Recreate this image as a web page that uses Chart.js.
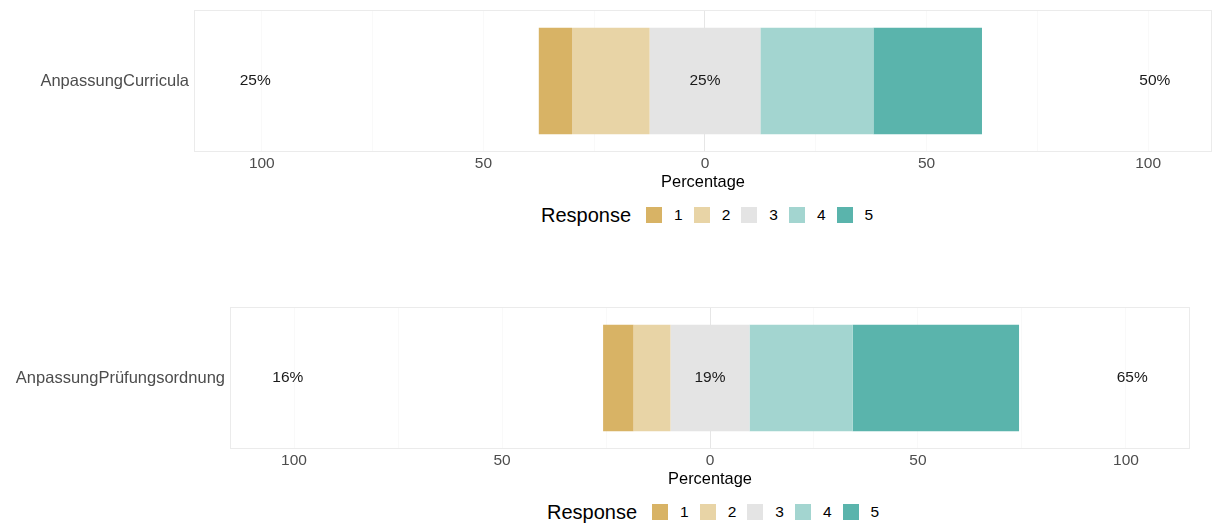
<!DOCTYPE html>
<html>
<head>
<meta charset="utf-8">
<script src="https://cdn.jsdelivr.net/npm/chart.js@4/dist/chart.umd.min.js"></script>
<style>
  body { margin: 0; background: #fff; font-family: "Liberation Sans", Arial, sans-serif; }
  #wrap { position: relative; width: 1213px; height: 526px; }
  canvas { position: absolute; left: 0; }
  .legend { position: absolute; height: 24px; display: flex; align-items: center; color: #000; }
  .legend .title { font-size: 20px; margin-right: 15px; }
  .legend .box { width: 16px; height: 16px; margin-right: 12px; }
  .legend .lab { font-size: 15.5px; margin-right: 11px; }
</style>
</head>
<body>
<div id="wrap">
  <canvas id="chartTop" width="1213" height="195" style="top:0"></canvas>
  <div class="legend" id="legendTop" style="left:541px; top:203px"></div>
  <canvas id="chartBottom" width="1213" height="195" style="top:297px"></canvas>
  <div class="legend" id="legendBottom" style="left:547px; top:500px"></div>
</div>
<script>
// Antwortstufen und Farben
const responses = ['1', '2', '3', '4', '5'];
const colors = ['#D8B365', '#E8D4A6', '#E4E4E4', '#A3D5D0', '#5AB4AC'];

// Anteile in Prozent
const itemTop = ['AnpassungCurricula'];
const valuesTop = [7.5, 17.5, 25, 25.5, 24.5];
const itemBottom = ['AnpassungPrüfungsordnung'];
const valuesBottom = [7.3, 8.9, 19, 24.8, 40];

// Achsenbeschriftungen
const tickValues = [-100, -75, -50, -25, 0, 25, 50, 75, 100];
const labelTicks = [-100, -50, 0, 50, 100];

// Floating bars: jede Stufe als [start, ende], Mitte auf 0 zentriert
function buildDatasets(values) {
  let pos = -(values[0] + values[1] + values[2] / 2);
  return values.map((v, i) => {
    const seg = [pos, pos + v];
    pos += v;
    return {
      label: responses[i],
      data: [seg],
      backgroundColor: colors[i],
      borderWidth: 0,
      grouped: false,
      barPercentage: 0.75,
      categoryPercentage: 1
    };
  });
}

// Rahmen um das Panel
const panelBorder = {
  id: 'panelBorder',
  beforeDatasetsDraw(chart) {
    const a = chart.chartArea, ctx = chart.ctx;
    ctx.save();
    ctx.strokeStyle = '#ebebeb';
    ctx.lineWidth = 1;
    ctx.strokeRect(a.left + 0.5, a.top + 0.5, a.right - a.left - 1, a.bottom - a.top - 1);
    ctx.restore();
  }
};

// Prozentwerte links, mitte, rechts
const percentLabels = {
  id: 'percentLabels',
  afterDatasetsDraw(chart, args, opts) {
    const v = opts.values;
    const low = Math.round(v[0] + v[1]);
    const mid = Math.round(v[2]);
    const high = Math.round(v[3] + v[4]);
    const x = chart.scales.x, y = chart.scales.y;
    const cy = y.getPixelForValue(0);
    const ctx = chart.ctx;
    ctx.save();
    ctx.font = '15.5px "Liberation Sans", Arial, sans-serif';
    ctx.fillStyle = '#1a1a1a';
    ctx.textAlign = 'center';
    ctx.textBaseline = 'middle';
    ctx.fillText(low + '%', x.getPixelForValue(-101.5), cy);
    ctx.fillText(mid + '%', x.getPixelForValue(0), cy);
    ctx.fillText(high + '%', x.getPixelForValue(101.5), cy);
    ctx.restore();
  }
};

function makeChart(id, items, values, yWidth, xMin, xMax, padRight) {
  return new Chart(document.getElementById(id), {
    type: 'bar',
    data: { labels: items, datasets: buildDatasets(values) },
    plugins: [panelBorder, percentLabels],
    options: {
      indexAxis: 'y',
      responsive: false,
      animation: false,
      layout: { padding: { top: 10, right: padRight, left: 0, bottom: 0 } },
      plugins: {
        legend: { display: false },
        tooltip: { enabled: false },
        percentLabels: { values: values }
      },
      scales: {
        x: {
          type: 'linear',
          min: xMin,
          max: xMax,
          afterBuildTicks: function (scale) {
            scale.ticks = tickValues.map(v => ({ value: v }));
          },
          afterFit: function (scale) {
            scale.height = 43;
            scale.paddingLeft = 0;
            scale.paddingRight = 0;
          },
          border: { display: false },
          grid: {
            drawTicks: false,
            color: ctx => (ctx.tick && ctx.tick.value === 0) ? '#e6e6e6' : '#f9f9f9'
          },
          ticks: {
            padding: 2,
            autoSkip: false,
            maxRotation: 0,
            color: '#4d4d4d',
            font: { family: '"Liberation Sans", Arial, sans-serif', size: 15.5 },
            callback: function (value) {
              return labelTicks.includes(value) ? String(Math.abs(value)) : '';
            }
          },
          title: {
            display: true,
            text: 'Percentage',
            color: '#000',
            padding: { top: 0, bottom: 3 },
            font: { family: '"Liberation Sans", Arial, sans-serif', size: 16.4 }
          }
        },
        y: {
          afterFit: function (scale) {
            scale.width = yWidth;
            scale.paddingTop = 0;
            scale.paddingBottom = 0;
          },
          border: { display: false },
          grid: { display: false, drawTicks: false },
          ticks: {
            padding: 5,
            color: '#4d4d4d',
            font: { family: '"Liberation Sans", Arial, sans-serif', size: 16.5 }
          }
        }
      }
    }
  });
}

function makeLegend(id) {
  const el = document.getElementById(id);
  let html = '<span class="title">Response</span>';
  responses.forEach((r, i) => {
    html += '<span class="box" style="background:' + colors[i] + '"></span><span class="lab">' + r + '</span>';
  });
  el.innerHTML = html;
}

makeChart('chartTop', itemTop, valuesTop, 194, -115.3, 114.4, 1);
makeChart('chartBottom', itemBottom, valuesBottom, 230, -115.4, 115.4, 23);
makeLegend('legendTop');
makeLegend('legendBottom');
</script>
</body>
</html>
